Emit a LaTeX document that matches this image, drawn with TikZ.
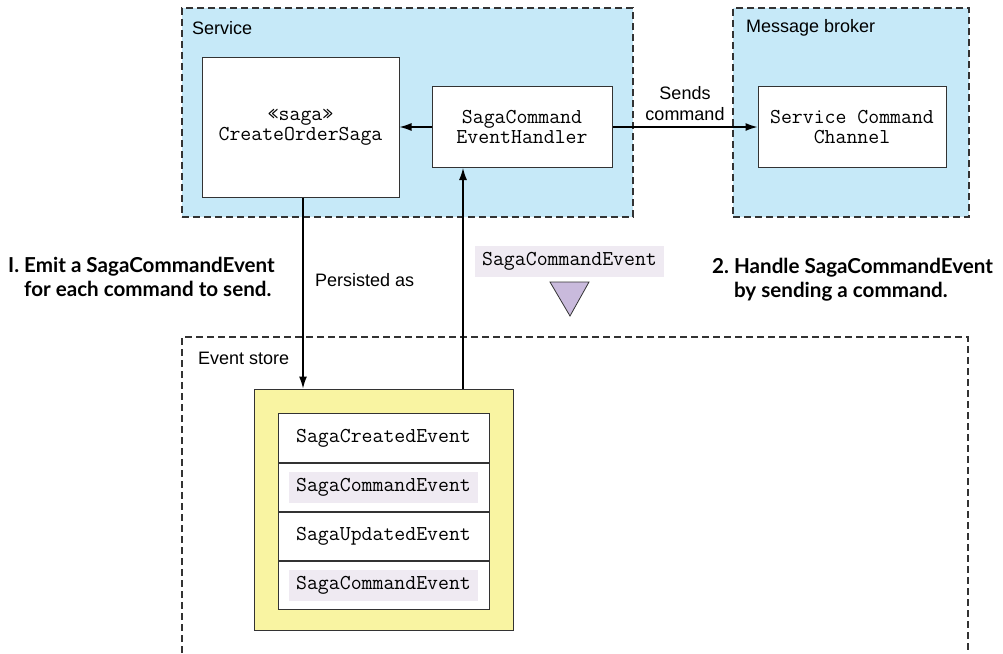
\documentclass[tikz,border=0pt]{standalone}
\usepackage{fontspec}
\setmainfont{Liberation Sans}
\newfontfamily\calloutfont{Lato}
\usetikzlibrary{arrows.meta, positioning}
\definecolor{svc}{HTML}{C6E9F8}
\definecolor{store}{HTML}{F9F4A2}
\definecolor{hilite}{HTML}{EFEAF2}
\definecolor{marker}{HTML}{C9BADC}
\definecolor{ink}{HTML}{333333}

\begin{document}
\begin{tikzpicture}[x=1pt, y=-1pt, >={Latex[length=12pt, width=8pt]},
    container/.style={draw=ink, line width=1.2pt, dash pattern=on 7pt off 4pt, fill=svc, inner sep=0pt},
    box/.style={draw=ink, line width=1pt, fill=white, align=center, inner sep=0pt,
      font=\fontsize{21.2}{20}\selectfont\ttfamily},
    cell/.style={box, minimum width=211pt, minimum height=48.25pt},
    hl/.style={fill=hilite, inner sep=0pt, minimum width=189pt, minimum height=31pt,
      font=\fontsize{21.2}{20}\selectfont\ttfamily},
    lbl/.style={inner sep=0pt, font=\fontsize{18}{21}\selectfont},
    callout/.style={inner sep=0pt, font=\fontsize{20.6}{24}\selectfont\calloutfont\bfseries},
    flow/.style={->, line width=1.2pt, draw=black}]
  \useasboundingbox (0,0) rectangle (1003,653);

  % containers
  \node[container, minimum width=451pt, minimum height=209pt] (service) at (407.5,112.5) {};
  \node[lbl, anchor=west] (servicelbl) at (192,28) {Service};
  \node[container, minimum width=236pt, minimum height=209pt] (broker) at (851,112.5) {};
  \node[lbl, anchor=west] (brokerlbl) at (746,28) {Message broker};

  % service internals
  \node[box, minimum width=197pt, minimum height=140pt] (saga) at (300.5,127) {«saga»\\CreateOrderSaga};
  \node[box, minimum width=180pt, minimum height=81pt] (handler) at (522,127) {SagaCommand\\EventHandler};
  \node[box, minimum width=188pt, minimum height=81pt] (channel) at (852,127) {Service Command\\Channel};

  % event store
  \draw[draw=ink, line width=1.2pt, dash pattern=on 7pt off 4pt] (182,653) -- (182,337) -- (968,337) -- (968,653);
  \node[lbl, anchor=west] (storelbl) at (198,358) {Event store};
  \node[draw=ink, line width=1pt, fill=store, minimum width=259pt, minimum height=241pt] (events) at (383.5,509.5) {};
  \node[cell] (c1) at (383.5,438) {SagaCreatedEvent};
  \node[cell, below=0pt of c1] (c2) {};
  \node[cell, below=0pt of c2] (c3) {SagaUpdatedEvent};
  \node[cell, below=0pt of c3] (c4) {};
  \node[hl] (h2) at (c2) {SagaCommandEvent};
  \node[hl] (h4) at (c4) {SagaCommandEvent};

  % connectors
  \draw[flow] (handler.west) -- (saga.east);
  \draw[flow] (handler.east) -- node[lbl, align=center, above=6pt] (sends) {Sends\\command} (channel.west);
  \draw[flow] ([xshift=2.5pt]saga.south) -- ([xshift=2.5pt]saga.south |- events.north);
  \draw[flow] ([xshift=79.5pt]events.north) -- ([xshift=79.5pt]events.north |- handler.south);

  % labels between the layers
  \node[lbl, anchor=west] (persisted) at (315,280) {Persisted as};
  \node[hl] (evlabel) at (569.5,261.5) {SagaCommandEvent};
  \draw[draw=ink, fill=marker, line width=0.8pt] (550,282) -- (589,282) -- (570,316) -- cycle;

  \node[callout, anchor=base west] (emitnote) at (8,272)
    {\begin{tabular}[t]{@{}l@{\ }l@{}}I. & Emit a SagaCommandEvent\\ & for each command to send.\end{tabular}};
  \node[callout, anchor=base west] (handlenote) at (712,273)
    {\begin{tabular}[t]{@{}l@{\ }l@{}}2. & Handle SagaCommandEvent\\ & by sending a command.\end{tabular}};
\end{tikzpicture}
\end{document}
